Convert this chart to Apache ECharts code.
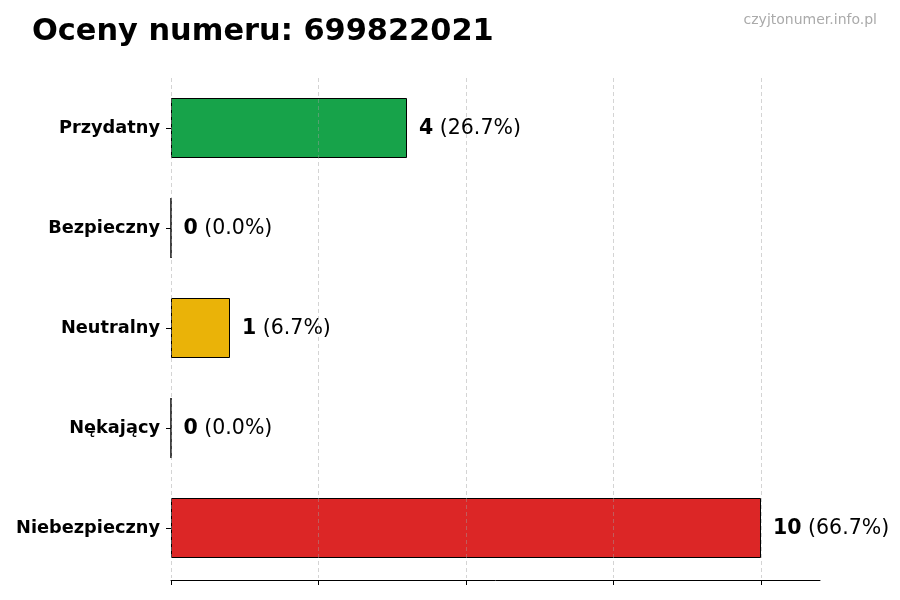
<!DOCTYPE html>
<html><head><meta charset="utf-8">
<script src="https://cdn.jsdelivr.net/npm/echarts@6/dist/echarts.min.js"></script>
<style>html,body{margin:0;padding:0;background:#fff}#c{width:900px;height:600px}</style>
</head><body><div id="c"></div>
<script>
const categories = ['Przydatny','Bezpieczny','Neutralny','Nękający','Niebezpieczny'];
const values = [4, 0, 1, 0, 10];
const percents = ['26.7%','0.0%','6.7%','0.0%','66.7%'];
const colors = ['#17a34a','#cccccc','#eab308','#cccccc','#dc2626'];
const xTicks = [0, 2.5, 5, 7.5, 10];

const chart = echarts.init(document.getElementById('c'));
const F = 'DejaVu Sans';
chart.setOption({
  animation: false,
  title: [
    {text: 'Oceny numeru: 699822021', left: 27, top: 12, textStyle: {fontFamily: F, fontSize: 30.4, fontWeight: 'bold', color: '#000'}},
    {text: 'czyjtonumer.info.pl', right: 18, top: 8, textStyle: {fontFamily: F, fontSize: 14, fontWeight: 'normal', color: '#aaaaaa'}}
  ],
  grid: {left: 171, right: 80, top: 78, bottom: 22, containLabel: false},
  xAxis: {
    type: 'value', min: 0, max: 11, interval: 2.5, offset: 2,
    axisLine: {show: true, lineStyle: {color: '#000', width: 1}},
    axisTick: {show: true, length: 5, lineStyle: {color: '#000'}, customValues: xTicks},
    axisLabel: {show: false},
    splitLine: {show: false}
  },
  yAxis: {
    type: 'category', data: categories, inverse: true,
    axisLine: {show: false},
    axisTick: {show: true, length: 5, alignWithLabel: true, lineStyle: {color: '#000'}},
    axisLabel: {fontFamily: F, fontSize: 17.75, fontWeight: 'bold', color: '#000', margin: 11}
  },
  series: [{
    type: 'bar',
    barWidth: '60%',
    data: values.map((v, i) => ({value: v, itemStyle: {color: colors[i]}})),
    itemStyle: {borderColor: '#000', borderWidth: 1},
    label: {
      show: true, position: 'right', distance: 12, offset: [0, 1],
      formatter: p => '{b|' + values[p.dataIndex] + '}{n| (' + percents[p.dataIndex] + ')}',
      rich: {
        b: {fontFamily: F, fontSize: 20.5, fontWeight: 'bold', color: '#000'},
        n: {fontFamily: F, fontSize: 20.5, color: '#000'}
      }
    },
    markLine: {
      silent: true, symbol: 'none', label: {show: false}, z: 10,
      lineStyle: {type: [4, 3], color: 'rgba(160,160,160,0.45)', width: 1},
      data: xTicks.map(t => ({xAxis: t}))
    }
  }]
});
</script></body></html>
